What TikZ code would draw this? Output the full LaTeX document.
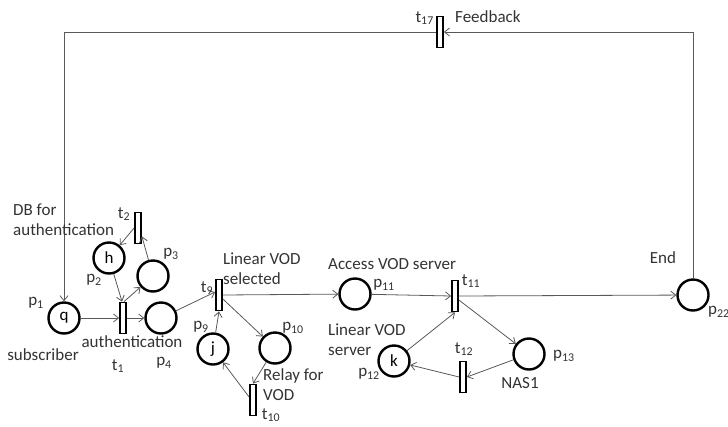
\documentclass[tikz,border=0pt]{standalone}
\usepackage{fontspec}
\setmainfont{Carlito}
\usetikzlibrary{arrows.meta}
\begin{document}
\begin{tikzpicture}[x=1pt,y=-1pt,
 place/.style={circle,draw=black,line width=2.4pt,minimum size=31pt,inner sep=0pt,font=\fontsize{17}{17}\selectfont},
 trans/.style={rectangle,draw=black,fill=white,line width=1.8pt,minimum width=6pt,minimum height=31pt,inner sep=0pt},
 arc/.style={draw=black!65,line width=0.8pt,-{Straight Barb[length=5pt,width=8pt]}},
 lbl/.style={font=\fontsize{17}{20}\selectfont,text=black!80,inner sep=0pt,align=left}
]
\useasboundingbox (0,0) rectangle (728,426);
% places
\node[place] (p1) at (64,318) {q};
\node[place] (p2) at (109,258) {h};
\node[place] (p3) at (153,276) {};
\node[place] (p4) at (161,318) {};
\node[place] (p9) at (213,349) {j};
\node[place] (p10) at (275,348) {};
\node[place] (p11) at (355,294) {};
\node[place] (p12) at (394,361) {k};
\node[place] (p13) at (529,354) {};
\node[place] (p22) at (693,295) {};
% transitions
\node[trans] (t1) at (123,318) {};
\node[trans] (t2) at (138,228) {};
\node[trans] (t9) at (219,295) {};
\node[trans] (t10) at (253,400) {};
\node[trans] (t11) at (455,296) {};
\node[trans] (t12) at (463,377) {};
\node[trans] (t17) at (440,32) {};
% arcs
\draw[arc] (p22.north) |- (t17.east);
\draw[arc] (t17.west) -| (p1.north);
\draw[arc] (p1) -- (t1);
\draw[arc] (t1) -- (p4);
\draw[arc] (p2) -- ([xshift=-1pt]t1.north);
\draw[arc] ([xshift=1pt]t1.north) -- (p3);
\draw[arc] (p3) -- ([yshift=8pt]t2.south east);
\draw[arc] (t2.west) -- (p2);
\draw[arc] (p4) -- ([yshift=3pt]t9.west);
\draw[arc] (p9) -- (t9.south);
\draw[arc] (t9.east) -- (p11);
\draw[arc] ([yshift=-4pt]t9.east) -- (p10);
\draw[arc] (p10) -- (t10.north);
\draw[arc] ([yshift=3pt]t10.west) -- (p9);
\draw[arc] (p11) -- (t11.west);
\draw[arc] (t11.east) -- (p22);
\draw[arc] ([yshift=-4pt]t11.east) -- (p13);
\draw[arc] (p13) -- (t12.east);
\draw[arc] (t12.west) -- (p12);
\draw[arc] (p12) -- (t11.south);
% labels
\node[lbl,anchor=east] (l17) at (434,18) {t\textsubscript{17}};
\node[lbl,anchor=west] (lfb) at (455,17) {Feedback};
\node[lbl,anchor=north west] (ldb) at (13,204) {DB for\\authentication};
\node[lbl] (lt2) at (124,214) {t\textsubscript{2}};
\node[lbl] (lp2) at (94,280) {p\textsubscript{2}};
\node[lbl] (lp3) at (171,254) {p\textsubscript{3}};
\node[lbl] (lp1) at (36,303) {p\textsubscript{1}};
\node[lbl] (lsub) at (43,355) {subscriber};
\node[lbl] (lauth) at (132,342) {authentication};
\node[lbl] (lt1) at (118,366) {t\textsubscript{1}};
\node[lbl] (lp4) at (164,363) {p\textsubscript{4}};
\node[lbl] (lt9) at (207,288) {t\textsubscript{9}};
\node[lbl] (lp9) at (201,327) {p\textsubscript{9}};
\node[lbl,anchor=north west] (llvs) at (223,253) {Linear VOD\\selected};
\node[lbl] (lp10) at (293,328) {p\textsubscript{10}};
\node[lbl,anchor=north west] (lrel) at (263,368) {Relay for\\VOD};
\node[lbl] (lt10) at (271,415) {t\textsubscript{10}};
\node[lbl,anchor=west] (lacc) at (328,264) {Access VOD server};
\node[lbl] (lp11) at (384,285) {p\textsubscript{11}};
\node[lbl] (lt11) at (471,281) {t\textsubscript{11}};
\node[lbl,anchor=north west] (llvsrv) at (328,324) {Linear VOD\\server};
\node[lbl] (lp12) at (369,374) {p\textsubscript{12}};
\node[lbl] (lt12) at (464,349) {t\textsubscript{12}};
\node[lbl,anchor=west] (lp13) at (553,356) {p\textsubscript{13}};
\node[lbl] (lnas) at (520,383) {NAS1};
\node[lbl] (lend) at (663,258) {End};
\node[lbl,anchor=west] (lp22) at (708,312) {p\textsubscript{22}};
\end{tikzpicture}
\end{document}
